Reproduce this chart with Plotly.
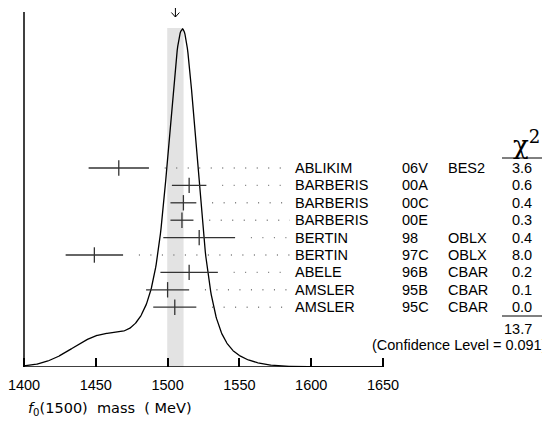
import numpy as np
import plotly.graph_objects as go

# measurements of the f0(1500) mass
authors = ["ABLIKIM", "BARBERIS", "BARBERIS", "BARBERIS", "BERTIN", "BERTIN", "ABELE", "AMSLER", "AMSLER"]
docs = ["06V", "00A", "00C", "00E", "98", "97C", "96B", "95B", "95C"]
tecn = ["BES2", "", "", "", "OBLX", "OBLX", "CBAR", "CBAR", "CBAR"]
mass = [1466, 1515, 1511, 1510, 1522, 1449, 1515, 1500, 1505]
err = [21, 12, 9, 8, 25, 20, 20, 15, 15]
chi2 = ["3.6", "0.6", "0.4", "0.3", "0.4", "8.0", "0.2", "0.1", "0.0"]
chi2_total = "13.7"
conf_level = "0.091"
tick_vals = [1400, 1450, 1500, 1550, 1600, 1650]

m = np.array(mass, float)
s = np.array(err, float)

# weighted average, scaled error
w = 1 / s**2
avg = (w * m).sum() / w.sum()
S = np.sqrt(((m - avg) ** 2 * w).sum() / (len(m) - 1))
avg_err = S / np.sqrt(w.sum())

# ideogram: gaussians with area ~ 1/sigma
xs = np.linspace(1400, 1650, 601)
ys = sum((1 / si) * np.exp(-0.5 * ((xs - mi) / si) ** 2) / si for mi, si in zip(m, s))
ys = ys / ys.max() * 338

# page has an 8px body margin, so the figure is 542x421 and pixel
# positions below are given in window pixels
OFF = 8
W, H = 550 - OFF, 429 - OFF
PX = 359 / 250.0
X0 = 1400 - (24 - OFF) / PX
PLOT_H = 367 - OFF

def px(p):
    return X0 + (p - OFF) / PX

def paper_y(p):
    return (367 - p) / PLOT_H

row_y = [199 - 17.4 * i for i in range(len(mass))]

fig = go.Figure()

# band
fig.add_shape(type="rect", x0=avg - avg_err, x1=avg + avg_err, y0=0, y1=339,
              fillcolor="#e3e3e3", line_width=0, layer="below")

# dotted leaders
for mi, si, yi in zip(m, s, row_y):
    fig.add_trace(go.Scatter(x=[mi + si + 11, px(290)], y=[yi, yi], mode="lines",
                             line=dict(color="#777", width=1.4, dash="1px,10.5px"),
                             hoverinfo="skip"))

# ideogram curve
fig.add_trace(go.Scatter(x=xs, y=ys, mode="lines", line=dict(color="black", width=1.3),
                         hoverinfo="skip"))

# measurements
fig.add_trace(go.Scatter(
    x=mass, y=row_y, mode="markers",
    marker=dict(symbol="line-ns", size=11, line=dict(width=1.3, color="#333")),
    error_x=dict(type="data", array=err, width=0, thickness=1.3, color="#333"),
    hoverinfo="skip"))

# arrow at the average
fig.add_trace(go.Scatter(x=[avg, avg, None, avg - 2.8, avg, avg + 2.8],
                         y=[367, 350, None, 354.5, 350, 354.5], mode="lines",
                         line=dict(color="black", width=1), cliponaxis=False, hoverinfo="skip"))

# axes lines
fig.add_shape(type="line", x0=1400, x1=1400, y0=0, y1=355, line=dict(color="black", width=1.5))
fig.add_shape(type="line", x0=1400, x1=1650, y0=0, y1=0, line=dict(color="black", width=1.5))

fnt = dict(family="Liberation Sans, Arial, sans-serif", size=14.5, color="black")
for i, yi in enumerate(row_y):
    fig.add_annotation(x=px(293), y=yi, text=authors[i], xanchor="left", showarrow=False, font=fnt)
    fig.add_annotation(x=px(400), y=yi, text=docs[i], xanchor="left", showarrow=False, font=fnt)
    if tecn[i]:
        fig.add_annotation(x=px(446), y=yi, text=tecn[i], xanchor="left", showarrow=False, font=fnt)
    fig.add_annotation(x=px(534), y=yi, text=chi2[i], xanchor="right", showarrow=False, font=fnt)

fig.add_annotation(x=px(526), y=224, text="χ<sup>2</sup>", showarrow=False,
                   font=dict(family="DejaVu Serif, serif", size=26, color="black"))
fig.add_shape(type="line", x0=px(502), x1=px(549), y0=209, y1=209, line=dict(color="black", width=1))
fig.add_shape(type="line", x0=px(502), x1=px(549), y0=51, y1=51, line=dict(color="black", width=1))
fig.add_annotation(x=px(534), y=38, text=chi2_total, xanchor="right", showarrow=False, font=fnt)
fig.add_annotation(x=(549 - OFF) / W, xref="paper", y=22, text="(Confidence Level = " + conf_level + ")",
                   xanchor="right", showarrow=False, font=fnt)

fig.add_annotation(x=(26 - OFF) / W, xref="paper", y=paper_y(409), yref="paper",
                   text="<i>f</i><sub>0</sub>(1500)&nbsp; mass&nbsp; (&nbsp;MeV)", xanchor="left",
                   yanchor="middle", showarrow=False,
                   font=dict(family="DejaVu Sans, sans-serif", size=14.5, color="black"))

fig.update_layout(
    width=W, height=H,
    margin=dict(l=0, r=0, t=0, b=H - PLOT_H),
    plot_bgcolor="white", paper_bgcolor="white",
    showlegend=False,
    xaxis=dict(range=[X0, X0 + W / PX], tickvals=tick_vals, ticks="inside", ticklen=9,
               tickwidth=1.5, tickcolor="black", showgrid=False, zeroline=False, showline=False,
               tickfont=fnt, ticklabelstandoff=7, ticklabeloverflow="allow", fixedrange=True),
    yaxis=dict(range=[0, PLOT_H], visible=False, fixedrange=True),
)

fig.write_html("out.html")
